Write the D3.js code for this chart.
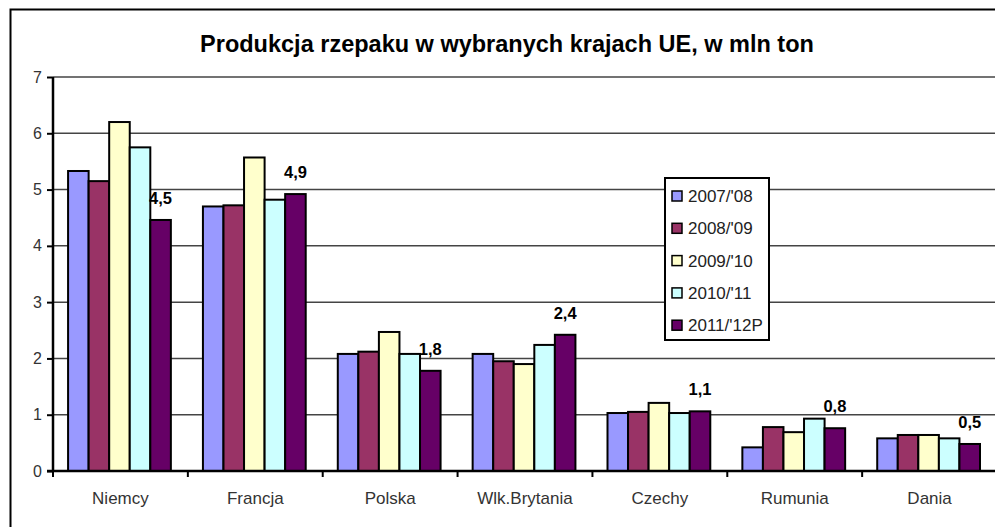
<!DOCTYPE html>
<html>
<head>
<meta charset="utf-8">
<script src="https://cdn.jsdelivr.net/npm/d3@7"></script>
<style>
  body { margin: 0; background: #fff; }
  text { font-family: "Liberation Sans", Arial, sans-serif; }
</style>
</head>
<body>
<div id="chart"></div>
<script>
'use strict'
/* Datos del gráfico */
var kraje = ['Niemcy', 'Francja', 'Polska', 'Wlk.Brytania', 'Czechy', 'Rumunia', 'Dania'];
var sezony = ["2007/'08", "2008/'09", "2009/'10", "2010/'11", "2011/'12P"];
var s0708 = [5.33, 4.70, 2.08, 2.08, 1.03, 0.42, 0.58];
var s0809 = [5.15, 4.72, 2.12, 1.95, 1.05, 0.78, 0.64];
var s0910 = [6.20, 5.57, 2.47, 1.90, 1.21, 0.69, 0.64];
var s1011 = [5.75, 4.82, 2.08, 2.24, 1.03, 0.93, 0.58];
var s1112 = [4.46, 4.92, 1.78, 2.42, 1.06, 0.76, 0.48];
var yTicks = [0, 1, 2, 3, 4, 5, 6, 7];
var kolory = ['#9999FF', '#993366', '#FFFFCC', '#CCFFFF', '#660066'];

var serie = [s0708, s0809, s0910, s1011, s1112];
var W = 995, H = 527;
var margin = {left: 53, right: -2, top: 77, bottom: 56};

var svg = d3.select('#chart').append('svg')
            .attr('width', W)
            .attr('height', H);

// Marco exterior
svg.append('rect')
   .attr('x', 10.5).attr('y', 9.5)
   .attr('width', 1000).attr('height', 600)
   .attr('fill', 'none')
   .attr('stroke', '#000')
   .attr('stroke-width', 2);

// Título
svg.append('text')
   .attr('x', 507).attr('y', 52)
   .attr('text-anchor', 'middle')
   .style('font-size', '23.5px')
   .style('font-weight', 'bold')
   .attr('fill', '#000')
   .text('Produkcja rzepaku w wybranych krajach UE, w mln ton');

var x0 = d3.scaleBand()
           .domain(kraje)
           .range([margin.left, W - margin.right])
           .paddingInner(0)
           .paddingOuter(0);
var x1 = d3.scaleBand()
           .domain(d3.range(sezony.length))
           .range([0, x0.bandwidth()])
           .paddingInner(0)
           .paddingOuter(0.78)
           .align(0.47);
var y = d3.scaleLinear()
          .domain([0, 7])
          .range([H - margin.bottom, margin.top]);

// Líneas de la cuadrícula
svg.append('g')
   .selectAll('line')
   .data(yTicks.slice(1))
   .enter()
   .append('line')
   .attr('x1', margin.left).attr('x2', W)
   .attr('y1', d => y(d)).attr('y2', d => y(d))
   .attr('stroke', '#444')
   .attr('stroke-width', 1.5);

// Barras
var grupos = svg.append('g')
   .selectAll('g')
   .data(kraje)
   .enter()
   .append('g')
   .attr('transform', d => 'translate(' + x0(d) + ',0)');

grupos.selectAll('rect')
   .data((d, i) => serie.map((s, j) => ({j: j, v: s[i]})))
   .enter()
   .append('rect')
   .attr('x', d => x1(d.j))
   .attr('y', d => y(d.v))
   .attr('width', x1.bandwidth())
   .attr('height', d => y(0) - y(d.v))
   .attr('fill', d => kolory[d.j])
   .attr('stroke', '#000')
   .attr('stroke-width', 2);

// Etiquetas de la última serie
var fmt = v => v.toFixed(1).replace('.', ',');
grupos.append('text')
   .attr('x', (d, i) => x1(4) + x1.bandwidth() / 2)
   .attr('y', (d, i) => y(s1112[i]) - 16)
   .attr('text-anchor', 'middle')
   .style('font-size', '16.5px')
   .style('font-weight', 'bold')
   .attr('fill', '#000')
   .text((d, i) => fmt(s1112[i]));

// Eje Y
var yAxis = svg.append('g')
   .attr('transform', 'translate(' + margin.left + ',0)')
   .call(d3.axisLeft(y).tickValues(yTicks).tickSize(6).tickFormat(d3.format('d')));
yAxis.select('.domain').attr('stroke', '#000').attr('stroke-width', 2.5)
     .attr('d', 'M0,' + y(7) + 'V' + y(0));
yAxis.selectAll('.tick line').attr('stroke', '#000').attr('stroke-width', 2);
yAxis.selectAll('.tick text')
     .attr('x', -11)
     .style('font-size', '16px')
     .style('font-family', '"Liberation Sans", Arial, sans-serif')
     .attr('fill', '#333');

// Eje X
var xAxisG = svg.append('g');
xAxisG.append('line')
   .attr('x1', margin.left - 6).attr('x2', W)
   .attr('y1', y(0)).attr('y2', y(0))
   .attr('stroke', '#000').attr('stroke-width', 2.5);
xAxisG.selectAll('line.tk')
   .data(kraje)
   .enter()
   .append('line')
   .attr('class', 'tk')
   .attr('x1', d => x0(d)).attr('x2', d => x0(d))
   .attr('y1', y(0)).attr('y2', y(0) + 6)
   .attr('stroke', '#000').attr('stroke-width', 2);
xAxisG.selectAll('text')
   .data(kraje)
   .enter()
   .append('text')
   .attr('x', d => x0(d) + x0.bandwidth() / 2)
   .attr('y', y(0) + 33)
   .attr('text-anchor', 'middle')
   .style('font-size', '17px')
   .attr('fill', '#333')
   .text(d => d);

// Leyenda
var leg = svg.append('g').attr('transform', 'translate(665,178)');
leg.append('rect')
   .attr('x', 0).attr('y', 0)
   .attr('width', 104).attr('height', 162)
   .attr('fill', '#fff')
   .attr('stroke', '#000')
   .attr('stroke-width', 2);
var items = leg.selectAll('g.it')
   .data(sezony)
   .enter()
   .append('g')
   .attr('class', 'it')
   .attr('transform', (d, i) => 'translate(0,' + (18 + i * 32.3) + ')');
items.append('rect')
   .attr('x', 7).attr('y', -5)
   .attr('width', 10).attr('height', 10)
   .attr('fill', (d, i) => kolory[i])
   .attr('stroke', '#000')
   .attr('stroke-width', 1.5);
items.append('text')
   .attr('x', 23).attr('y', 6)
   .style('font-size', '17px')
   .attr('fill', '#222')
   .text(d => d);
</script>
</body>
</html>
